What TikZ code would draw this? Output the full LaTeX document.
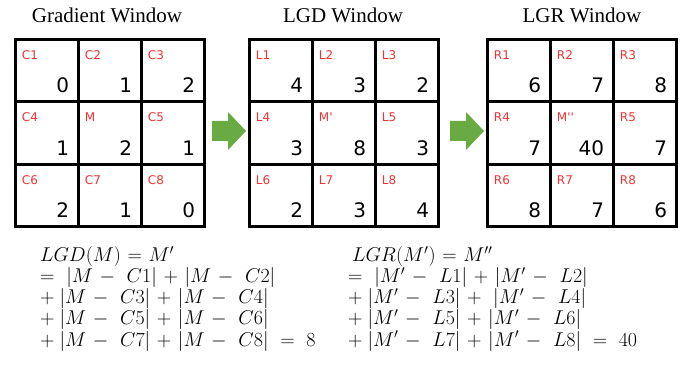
\RequirePackage{fix-cm}
\documentclass[tikz,border=0pt]{standalone}
\usepackage{fontspec}
\setmainfont{Liberation Serif}
\newfontfamily\cellfont{DejaVu Sans}
\definecolor{lblred}{RGB}{240,50,50}
\definecolor{arrgreen}{RGB}{106,170,66}
\medmuskip=6mu plus 2mu minus 2mu
\thickmuskip=6mu plus 3mu
\begin{document}
\begin{tikzpicture}[x=1pt,y=-1pt,
  cell/.style={draw=black,line width=3pt,minimum width=62.5pt,minimum height=62.5pt,inner sep=0pt,outer sep=0pt},
  lbl/.style={anchor=base west,inner sep=0pt,text=lblred,font=\cellfont\fontsize{12}{12}\selectfont},
  val/.style={anchor=base east,inner sep=0pt,font=\cellfont\fontsize{20}{20}\selectfont},
  ttl/.style={anchor=base,inner sep=0pt,font=\fontsize{21}{21}\selectfont},
  eq/.style={anchor=base west,inner sep=0pt,text height=12pt,text depth=3pt,font=\fontsize{20}{21}\selectfont},
  blockarrow/.style={fill=arrgreen,draw=none}]
\useasboundingbox (0,0) rectangle (694,374);
% titles
\node[ttl] (t1) at (107,23) {Gradient Window};
\node[ttl] (t2) at (343,23) {LGD Window};
\node[ttl] (t3) at (582,23) {LGR Window};
% grids
\foreach \g/\x in {A/15.5,B/249.5,C/487.5}{
  \foreach \r in {1,2,3}{
    \foreach \c in {1,2,3}{
      \node[cell] (\g-\r-\c) at ({\x+(\c-0.5)*63},{39.5+(\r-0.5)*62.5}) {};
    }
  }
}
% labels and values
\foreach \g/\names/\vals in {
  A/{C1,C2,C3,C4,M,C5,C6,C7,C8}/{0,1,2,1,2,1,2,1,0},
  B/{L1,L2,L3,L4,M',L5,L6,L7,L8}/{4,3,2,3,8,3,2,3,4},
  C/{R1,R2,R3,R4,M'',R5,R6,R7,R8}/{6,7,8,7,40,7,8,7,6}}{
  \foreach \n [count=\i from 0] in \names {
    \pgfmathtruncatemacro{\rr}{int(\i/3)+1}
    \pgfmathtruncatemacro{\cc}{mod(\i,3)+1}
    \node[lbl] (\g-\rr-\cc-l) at ([shift={(6,20)}]\g-\rr-\cc.north west) {\n};
  }
  \foreach \v [count=\i from 0] in \vals {
    \pgfmathtruncatemacro{\rr}{int(\i/3)+1}
    \pgfmathtruncatemacro{\cc}{mod(\i,3)+1}
    \node[val] (\g-\rr-\cc-v) at ([shift={(-9,-9)}]\g-\rr-\cc.south east) {\v};
  }
}
% block arrows
\foreach \ax/\nm in {212/a1,450/a2}{
  \coordinate (\nm) at (\ax,131);
  \fill[blockarrow] (\nm) ++(0,-10) -- ++(16,0) -- ++(0,-9) -- ++(18,19) -- ++(-18,19) -- ++(0,-9) -- ++(-16,0) -- cycle;
}
% equations
\node[eq] (e1) at (40,262) {$LGD(M) = M'$};
\node[eq] (e2) at (40,283) {$=\ |M-\ C1| + |M-\ C2|$};
\node[eq] (e3) at (40,304) {$+\ |M-\ C3| + |M-\ C4|$};
\node[eq] (e4) at (40,325) {$+\ |M-\ C5| + |M-\ C6|$};
\node[eq] (e5) at (40,346) {$+\ |M-\ C7| + |M-\ C8|\ =\ 8$};
\node[eq] (f1) at (352,262) {$LGR(M') = M''$};
\node[eq] (f2) at (348,283) {$=\ |M'-\ L1| + |M'-\ L2|$};
\node[eq] (f3) at (348,304) {$+\ |M'-\ L3| +\ |M'-\ L4|$};
\node[eq] (f4) at (348,325) {$+\ |M'-\ L5| + |M'-\ L6|$};
\node[eq] (f5) at (348,346) {$+\ |M'-\ L7| + |M'-\ L8|\ =\ 40$};
\end{tikzpicture}
\end{document}
